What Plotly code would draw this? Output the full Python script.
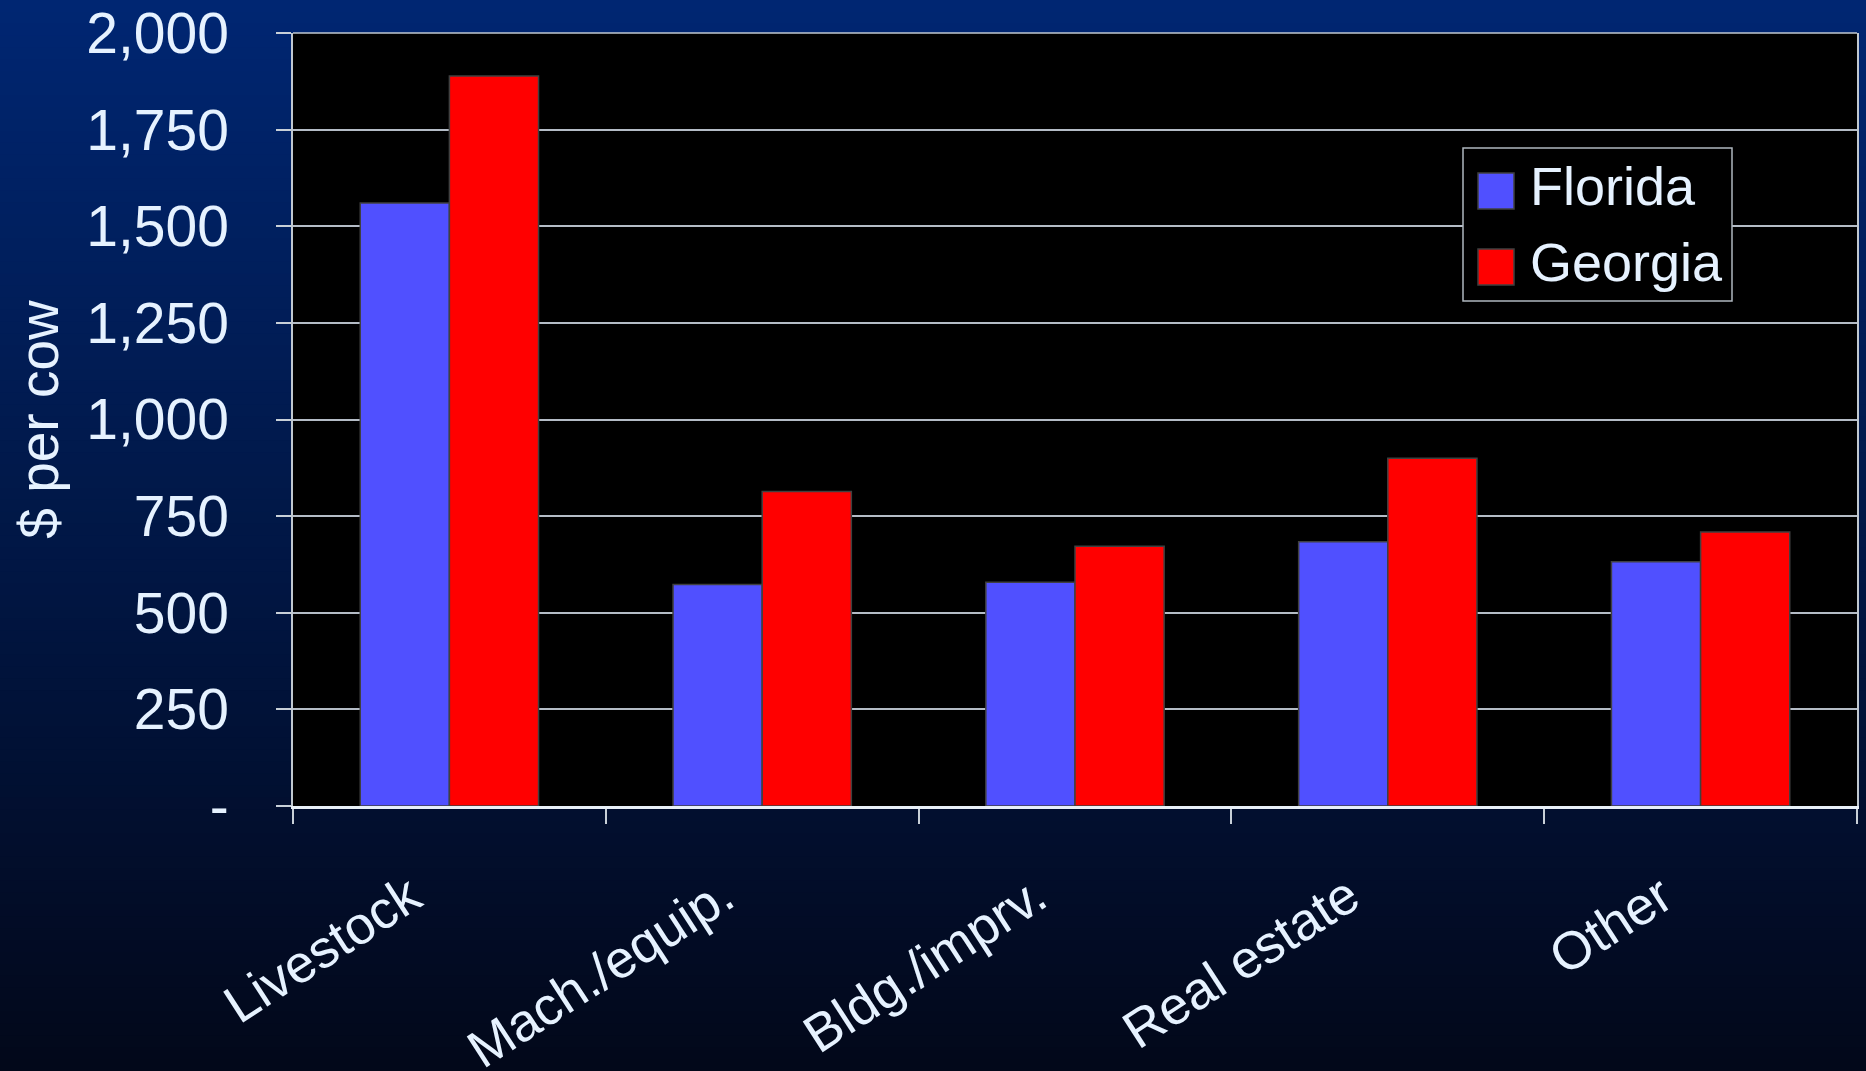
import plotly.graph_objects as go

# ---- data ----
categories = ["Livestock", "Mach./equip.", "Bldg./imprv.", "Real estate", "Other"]
series_names = ["Florida", "Georgia"]
florida = [1560, 573, 579, 684, 632]
georgia = [1889, 814, 672, 900, 709]
y_tickvals = [0, 250, 500, 750, 1000, 1250, 1500, 1750, 2000]
y_ticktext = ["-", "250", "500", "750", "1,000", "1,250", "1,500", "1,750", "2,000"]
y_title = "$ per cow"

# ---- style ----
W, H = 1866, 1071
ML, MR, MT, MB = 293, 9, 33, 265
PW, PH = W - ML - MR, H - MT - MB
FONT = "Arial, Liberation Sans, sans-serif"
TXT = "#E6F2FF"
COL_FL = "#5050FF"
COL_GA = "#FF0000"
GRID = "#B4BCC6"


def px_x(x):
    return (x - ML) / PW


def px_y(y):
    return (H - MB - y) / PH


fig = go.Figure()
for name, vals, col in [(series_names[0], florida, COL_FL), (series_names[1], georgia, COL_GA)]:
    fig.add_trace(go.Bar(
        name=name, x=categories, y=vals,
        marker=dict(color=col, line=dict(color="#404040", width=1.5)),
        showlegend=False,
    ))

shapes = []
# background gradient (top dark blue -> bottom near black)
top = (0, 38, 114)
bot = (2, 8, 26)
N = 90
for i in range(N):
    t = i / (N - 1)
    c = tuple(round(top[k] + (bot[k] - top[k]) * t) for k in range(3))
    y_top = i * H / N
    y_bot = (i + 1) * H / N + 1
    shapes.append(dict(type="rect", xref="paper", yref="paper", layer="below",
                       x0=px_x(0), x1=px_x(W), y0=px_y(y_bot), y1=px_y(y_top),
                       fillcolor="rgb(%d,%d,%d)" % c, line=dict(width=0)))
# plot area black
shapes.append(dict(type="rect", xref="paper", yref="paper", layer="below",
                   x0=0, x1=1, y0=0, y1=1, fillcolor="black", line=dict(width=0)))

# manual legend
shapes.append(dict(type="rect", xref="paper", yref="paper",
                   x0=px_x(1463), x1=px_x(1732), y0=px_y(301), y1=px_y(148),
                   fillcolor="black", line=dict(color="#AEB6BE", width=1.5)))
annotations = []
for i, (name, col) in enumerate([(series_names[0], COL_FL), (series_names[1], COL_GA)]):
    cy = 191 + i * 76
    shapes.append(dict(type="rect", xref="paper", yref="paper",
                       x0=px_x(1478), x1=px_x(1514), y0=px_y(cy + 18), y1=px_y(cy - 18),
                       fillcolor=col, line=dict(color="#404040", width=1.5)))
    annotations.append(dict(xref="paper", yref="paper", x=px_x(1528), y=px_y(cy - 5),
                            xanchor="left", yanchor="middle", showarrow=False,
                            text=name, font=dict(family=FONT, size=54, color=TXT)))

fig.update_layout(
    width=W, height=H,
    margin=dict(l=ML, r=MR, t=MT, b=MB, autoexpand=False),
    paper_bgcolor="#00123A",
    plot_bgcolor="black",
    barmode="group", bargap=0.43, bargroupgap=0,
    showlegend=False,
    font=dict(family=FONT, color=TXT, size=55),
    shapes=shapes,
    annotations=annotations,
)
fig.update_xaxes(
    tickangle=-33, tickfont=dict(size=53, color=TXT),
    ticks="outside", ticklen=15, tickcolor="#C8D0D8", tickwidth=1.5,
    tickson="boundaries",
    showline=True, linecolor="#E8F0F8", linewidth=3, mirror=False,
    showgrid=False, automargin=False,
    ticklabelstandoff=36, ticklabelshift=-39,
)
fig.update_yaxes(
    range=[0, 2000], tickvals=y_tickvals, ticktext=y_ticktext,
    tickfont=dict(size=57, color=TXT),
    ticks="outside", ticklen=15, tickcolor="#C8D0D8", tickwidth=1.5,
    showline=True, linecolor="#C0C8D0", linewidth=1.5, mirror=True,
    showgrid=True, gridcolor=GRID, gridwidth=1.5, zeroline=False,
    automargin=False, ticklabelstandoff=36,
    title=dict(text=y_title, font=dict(size=55, color=TXT), standoff=10),
)
# top border line of the plot area
fig.add_shape(type="line", xref="paper", yref="paper", x0=0, x1=1, y0=1, y1=1,
              line=dict(color="#C0C8D0", width=1.5))

fig.write_html("out.html")
